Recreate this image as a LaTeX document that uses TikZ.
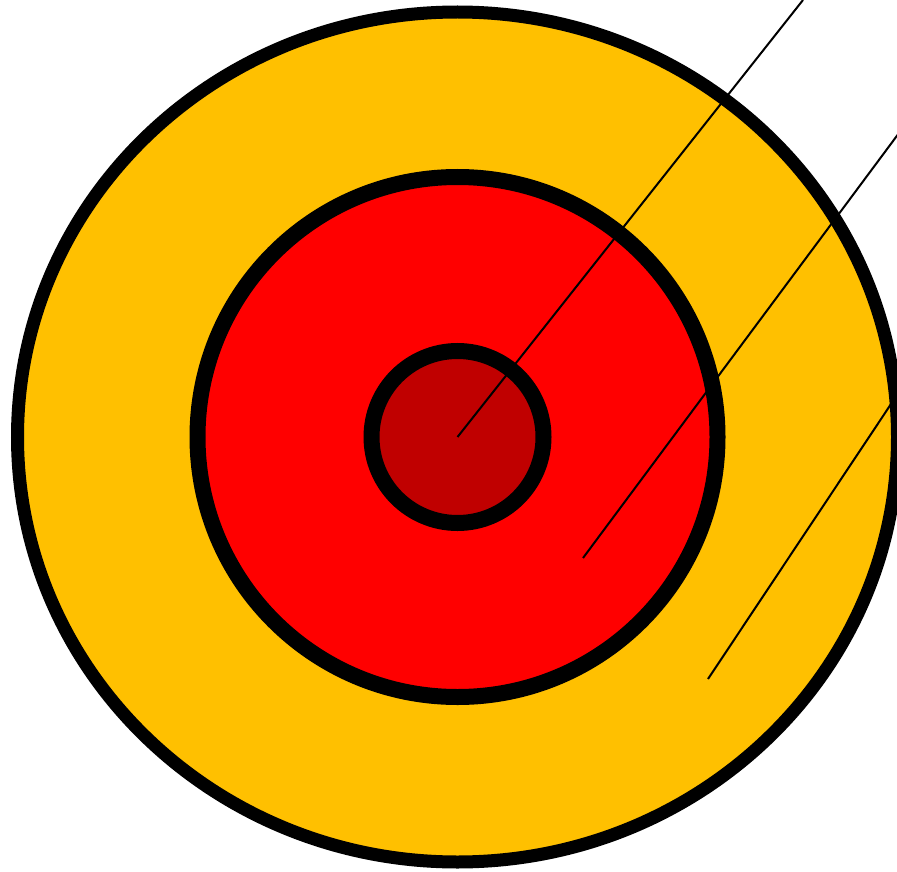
\documentclass[tikz,border=0pt]{standalone}
\definecolor{ringyellow}{HTML}{FFC000}
\definecolor{ringred}{HTML}{FF0000}
\definecolor{ringdark}{HTML}{C00000}
\tikzset{
  ring/.style={draw=black},
  pointer/.style={draw=black, line width=2pt}
}
\begin{document}
\begin{tikzpicture}[x=1pt,y=-1pt]
\useasboundingbox (0,0) rectangle (897,872);
\clip (0,0) rectangle (897,872);
\coordinate (c) at (457.5,437);
\draw[ring, fill=ringyellow, line width=13pt] (c) ellipse [x radius=440, y radius=425];
\draw[ring, fill=ringred, line width=16pt] (c) circle [radius=260];
\draw[ring, fill=ringdark, line width=16pt] (c) circle [radius=86];
\coordinate (e1) at (803,0);
\coordinate (s2) at (583,558);
\coordinate (e2) at (899,133);
\coordinate (s3) at (708,679);
\coordinate (e3) at (899,392);
\draw[pointer] (c) -- (e1);
\draw[pointer] (s2) -- (e2);
\draw[pointer] (s3) -- (e3);
\end{tikzpicture}
\end{document}
